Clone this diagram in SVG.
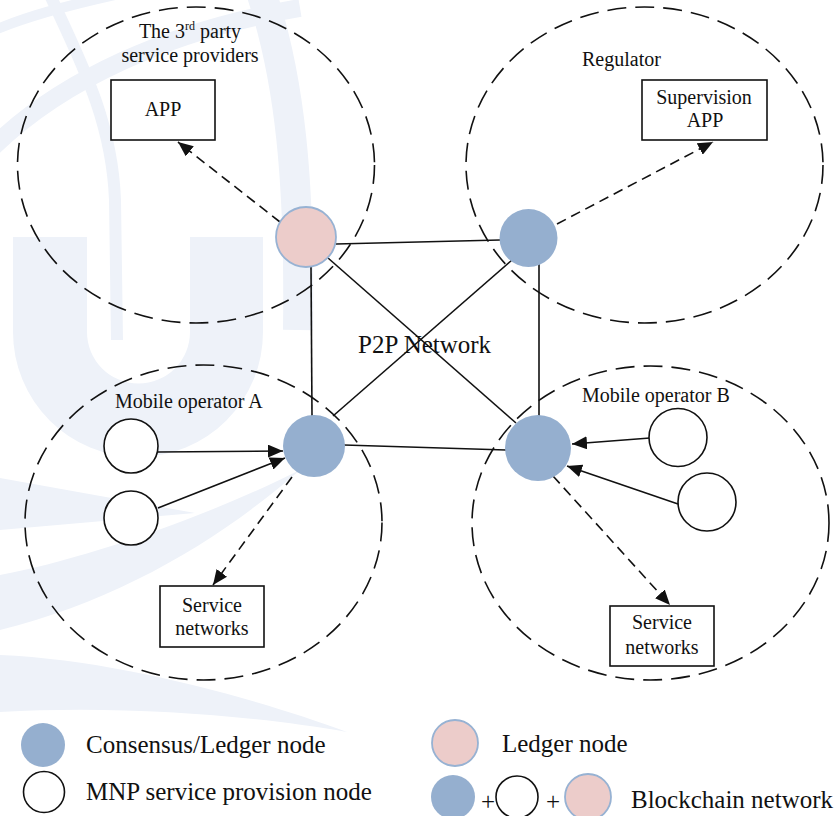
<svg xmlns="http://www.w3.org/2000/svg" width="840" height="816" viewBox="0 0 840 816">
<defs>
<style>
.t{font-family:'Liberation Serif','Times New Roman',Tinos,'DejaVu Serif',serif;font-size:20px;fill:#111}
.tl{font-family:'Liberation Serif','Times New Roman',Tinos,'DejaVu Serif',serif;font-size:25px;fill:#111}
.zone{fill:none;stroke:#111;stroke-width:1.6;stroke-dasharray:19 9}
.ln{fill:none;stroke:#111;stroke-width:1.6}
.dl{fill:none;stroke:#111;stroke-width:1.6;stroke-dasharray:10 6}
.cl{fill:#95afcf;stroke:none}
.pk{fill:#ecccca;stroke:#97b2d3;stroke-width:1.8}
.wh{fill:#fff;stroke:#111;stroke-width:1.6}
.box{fill:#fff;stroke:#111;stroke-width:1.6}
.wm{fill:#eef2f9;stroke:none}
.wms{fill:none;stroke:#eef2f9}
</style>
<marker id="ah" markerUnits="userSpaceOnUse" markerWidth="15" markerHeight="13" refX="15" refY="6.5" orient="auto">
<path d="M0,0 L15,6.5 L0,13 Z" fill="#111"/>
</marker>
</defs>
<rect width="840" height="816" fill="#fff"/>
<g id="watermark">
<path class="wms" stroke-width="12" d="M50,-5 C80,60 112,120 115,200 L117,340"/>
<path class="wms" stroke-width="18" d="M-10,150 C60,80 170,30 300,8"/>
<path class="wms" stroke-width="10" d="M-5,30 C30,15 70,5 115,-5"/>
<path class="wms" stroke-width="30" d="M262,-5 C290,80 300,180 298,330"/>
<path class="wm" d="M13,237 H87 V332 A51.5,51.5 0 0 0 190,332 V237 H263 V332 A125,125 0 0 1 13,332 Z"/>
<path class="wm" d="M0,478 L195,513 L0,530 Z"/>
<path class="wm" d="M0,575 C80,560 200,520 300,470 C220,540 120,600 0,630 Z"/>
<path class="wm" d="M0,655 C120,660 260,700 347,732 C250,715 120,705 0,712 Z"/>
</g>
<g id="zones">
<ellipse id="zone-3rd" class="zone" cx="196" cy="165" rx="178.5" ry="158"/>
<ellipse id="zone-regulator" class="zone" cx="644.5" cy="165" rx="178.5" ry="158"/>
<ellipse id="zone-opA" class="zone" cx="203.5" cy="522.5" rx="178.5" ry="157.5"/>
<ellipse id="zone-opB" class="zone" cx="650.5" cy="523" rx="178.5" ry="157"/>
</g>
<g id="connectors">
<line class="ln" x1="336" y1="244" x2="500" y2="240"/>
<line class="ln" x1="311" y1="267" x2="312" y2="416"/>
<line class="ln" x1="328" y1="258" x2="516" y2="423"/>
<line class="ln" x1="512" y1="260" x2="333" y2="416"/>
<line class="ln" x1="539" y1="264" x2="539" y2="416"/>
<line class="ln" x1="344" y1="445" x2="506" y2="450"/>
<line class="ln" x1="158" y1="452" x2="283" y2="451" marker-end="url(#ah)"/>
<line class="ln" x1="158" y1="508" x2="285" y2="458" marker-end="url(#ah)"/>
<line class="ln" x1="650" y1="438" x2="572" y2="444" marker-end="url(#ah)"/>
<line class="ln" x1="678" y1="504" x2="567" y2="466" marker-end="url(#ah)"/>
<line class="dl" x1="280" y1="222" x2="178" y2="142" marker-end="url(#ah)"/>
<line class="dl" x1="557" y1="224" x2="713" y2="142" marker-end="url(#ah)"/>
<line class="dl" x1="292" y1="477" x2="213" y2="585" marker-end="url(#ah)"/>
<line class="dl" x1="553" y1="476" x2="670" y2="605" marker-end="url(#ah)"/>
</g>
<g id="ledger-3rd"><circle class="pk" cx="306" cy="237" r="30"/></g>
<g id="consensus-regulator"><circle class="cl" cx="528.5" cy="238" r="29"/></g>
<g id="consensus-A"><circle class="cl" cx="314" cy="446" r="31"/></g>
<g id="consensus-B"><circle class="cl" cx="538" cy="448" r="33"/></g>
<g id="mnp-A1"><circle class="wh" cx="131" cy="446" r="27"/></g>
<g id="mnp-A2"><circle class="wh" cx="131" cy="518" r="27"/></g>
<g id="mnp-B1"><circle class="wh" cx="678" cy="437.5" r="29"/></g>
<g id="mnp-B2"><circle class="wh" cx="707" cy="502" r="29"/></g>
<g id="app"><rect class="box" x="111" y="80" width="104" height="60"/><text class="t" x="163" y="116" text-anchor="middle">APP</text></g>
<g id="supervision-app"><rect class="box" x="642" y="80" width="125" height="60"/><text class="t" x="704" y="104" text-anchor="middle">Supervision</text><text class="t" x="705" y="127" text-anchor="middle">APP</text></g>
<g id="service-A"><rect class="box" x="160" y="586" width="104" height="61"/><text class="t" x="212" y="612" text-anchor="middle">Service</text><text class="t" x="212" y="635" text-anchor="middle">networks</text></g>
<g id="service-B"><rect class="box" x="610" y="606" width="104" height="60"/><text class="t" x="662" y="629" text-anchor="middle">Service</text><text class="t" x="662" y="654" text-anchor="middle">networks</text></g>
<g id="labels">
<text class="t" x="190" y="38" text-anchor="middle">The 3<tspan font-size="12" dy="-8">rd</tspan><tspan dy="8"> party</tspan></text>
<text class="t" x="190" y="62" text-anchor="middle">service providers</text>
<text class="t" x="582" y="66">Regulator</text>
<text class="tl" x="358" y="353">P2P Network</text>
<text class="t" x="115" y="408">Mobile operator A</text>
<text class="t" x="582" y="402">Mobile operator B</text>
</g>
<g id="legend">
<circle class="cl" cx="43" cy="745" r="22"/>
<text class="tl" x="86" y="753">Consensus/Ledger node</text>
<circle class="wh" cx="44" cy="792" r="20.5"/>
<text class="tl" x="86" y="800">MNP service provision node</text>
<circle class="pk" cx="455" cy="743" r="23"/>
<text class="tl" x="502" y="752">Ledger node</text>
<circle class="cl" cx="453" cy="797" r="22"/>
<text class="tl" x="488" y="810" text-anchor="middle">+</text>
<circle class="wh" cx="517" cy="797" r="21"/>
<text class="tl" x="553" y="810" text-anchor="middle">+</text>
<circle class="pk" cx="588" cy="797" r="23"/>
<text class="tl" x="631" y="808">Blockchain network</text>
</g>
</svg>
